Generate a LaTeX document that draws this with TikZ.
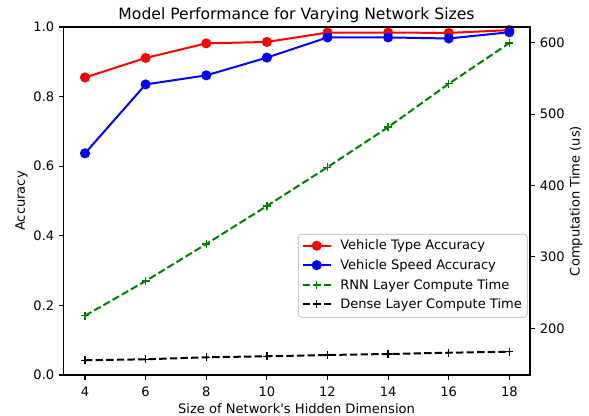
\documentclass[tikz,border=0pt]{standalone}
\usepackage{fontspec}
\setmainfont{DejaVu Sans}[Ligatures=TeXOff]
\begin{document}
\begin{tikzpicture}[x=0.75pt,y=-0.75pt]
\tikzset{
  axline/.style={line width=0.8pt, black},
  axtick/.style={line width=0.8pt, black},
  lbl/.style={font=\fontsize{9.8}{12}\selectfont, inner sep=0pt},
  accline/.style={line width=1.5pt, mark=*, mark size=3pt},
  cmpline/.style={line width=1.5pt, dash pattern=on 5.55pt off 2.4pt,
    mark=+, mark size=3pt, mark options={solid, line width=1pt}},
  legframe/.style={draw=black!20, fill=white, fill opacity=0.8,
    rounded corners=2.5pt, line width=0.8pt},
}
\useasboundingbox (0,0) rectangle (589,416);

% accuracy series (left axis)
\begin{scope}[shift={(-36.24,375)}, x={(22.7325pt,0)}, y={(0,261pt)}]
  \draw[red, accline] plot coordinates {(4,0.855) (6,0.911) (8,0.953) (10,0.957)
    (12,0.984) (14,0.984) (16,0.983) (18,0.991)};
  \draw[blue, accline] plot coordinates {(4,0.637) (6,0.835) (8,0.861) (10,0.912)
    (12,0.970) (14,0.970) (16,0.967) (18,0.985)};
\end{scope}

% compute-time series (right axis)
\begin{scope}[shift={(-36.24,471.1)}, x={(22.7325pt,0)}, y={(0,0.5355pt)}]
  \draw[green!50!black, cmpline] plot coordinates {(4,217.6) (6,266.2) (8,318)
    (10,371.3) (12,425.6) (14,481.7) (16,542.4) (18,599.5)};
  \draw[black, cmpline] plot coordinates {(4,155.2) (6,156.6) (8,159.4) (10,160.8)
    (12,162.6) (14,164) (16,165.8) (18,167.2)};
\end{scope}

% axes frame
\draw[axline] (63.3,27) rectangle (530,375);

% x ticks
\foreach \d in {4,6,...,18} {
  \pgfmathsetmacro\px{85+(\d-4)*30.31}
  \draw[axtick] (\px,375) -- ++(0,4.7);
  \node[lbl, anchor=base] (xt\d) at (\px,396.7) {\d};
}
% left y ticks
\foreach \a [count=\i] in {0.0,0.2,0.4,0.6,0.8,1.0} {
  \pgfmathsetmacro\py{375-\a*348}
  \draw[axtick] (63.3,\py) -- ++(-4.7,0);
  \node[lbl, anchor=east] (yl\i) at (54.5,\py) {\a};
}
% right y ticks
\foreach \t in {200,300,400,500,600} {
  \pgfmathsetmacro\py{328.3-(\t-200)*0.714}
  \draw[axtick] (530,\py) -- ++(4.7,0);
  \node[lbl, anchor=west] (yr\t) at (539.5,\py) {\t};
}

% titles and axis labels
\node[lbl, font=\fontsize{11.7}{14}\selectfont, anchor=base] (title) at (296.5,20)
  {Model Performance for Varying Network Sizes};
\node[lbl, anchor=base] (xlab) at (296.5,413.5) {Size of Network's Hidden Dimension};
\node[lbl, rotate=90] (ylab) at (21.5,201) {Accuracy};
\node[lbl, rotate=90] (y2lab) at (576,201) {Computation Time (us)};

% legend
\draw[legframe] (298.3,234.3) rectangle (527.3,317.3);
\draw[red, accline, mark indices={2}] plot coordinates {(302.7,245.7) (316.7,245.7) (330.7,245.7)};
\draw[blue, accline, mark indices={2}] plot coordinates {(302.7,265.2) (316.7,265.2) (330.7,265.2)};
\draw[green!50!black, cmpline, mark indices={2}] plot coordinates {(302.7,284.8) (316.7,284.8) (330.7,284.8)};
\draw[black, cmpline, mark indices={2}] plot coordinates {(302.7,304.3) (316.7,304.3) (330.7,304.3)};
\node[lbl, anchor=base west] (lg1) at (340,250) {Vehicle Type Accuracy};
\node[lbl, anchor=base west] (lg2) at (340,269.5) {Vehicle Speed Accuracy};
\node[lbl, anchor=base west] (lg3) at (340,289.2) {RNN Layer Compute Time};
\node[lbl, anchor=base west] (lg4) at (340,308.7) {Dense Layer Compute Time};
\end{tikzpicture}
\end{document}
